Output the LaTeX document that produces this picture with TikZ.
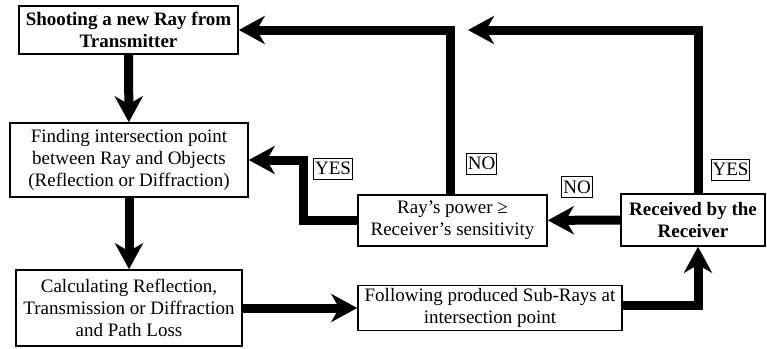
\documentclass[tikz,border=0pt]{standalone}
\usepackage{fontspec}
\setmainfont{Liberation Serif}
\usetikzlibrary{arrows.meta}

\tikzset{
  blk/.style={draw, line width=1.5pt, align=center, inner sep=1pt,
    font=\fontsize{19}{22}\selectfont},
  flow/.style={line width=9pt, -{Stealth[length=26pt, width=28pt, inset=8pt]}},
  tag/.style={draw, line width=1pt, inner xsep=1.5pt, inner ysep=1pt,
    minimum height=21pt, font=\fontsize{19}{20}\selectfont}
}

\begin{document}
\begin{tikzpicture}[x=1pt, y=-1pt]
  \useasboundingbox (0,0) rectangle (767,348);
  % blocks
  \node[blk, minimum width=219pt, minimum height=48pt] (shoot) at (128.5,30)
    {\bfseries Shooting a new Ray from\\ \bfseries Transmitter};
  \node[blk, minimum width=238pt, minimum height=74pt] (find) at (129,160)
    {Finding intersection point\\ between Ray and Objects\\ (Reflection or Diffraction)};
  \node[blk, minimum width=226pt, minimum height=76pt] (calc) at (129,308)
    {Calculating Reflection,\\ Transmission or Diffraction\\ and Path Loss};
  \node[blk, minimum width=264pt, minimum height=45pt] (follow) at (490,308)
    {Following produced Sub-Rays at\\ intersection point};
  \node[blk, minimum width=144pt, minimum height=52pt] (recv) at (693,220)
    {\bfseries Received by the\\ \bfseries Receiver};
  \node[blk, minimum width=189pt, minimum height=51pt] (power) at (452.5,220.5)
    {Ray’s power ≥\\ Receiver’s sensitivity};
  % free ends and corners
  \coordinate (ret) at (468,30);
  \coordinate (bend) at (303,160);
  % connectors
  \path[flow]
  (shoot) edge (find)
  (find) edge (calc)
  (calc) edge (follow)
  (recv) edge (power)
  ;
  \draw[flow] ([yshift=3pt]follow.east) -| ([xshift=5pt]recv.south);
  \draw[flow] ([xshift=5pt]recv.north) |- (ret);
  \draw[flow] ([xshift=-2pt]power.north) |- (shoot.east);
  \draw[flow] (power.west) -| (bend) -- (find.east);
  % labels
  \node[tag] (yes1) at (333,168.5) {YES};
  \node[tag] (no1) at (481.5,163.5) {NO};
  \node[tag] (no2) at (577,187) {NO};
  \node[tag] (yes2) at (730.5,169.5) {YES};
\end{tikzpicture}
\end{document}
